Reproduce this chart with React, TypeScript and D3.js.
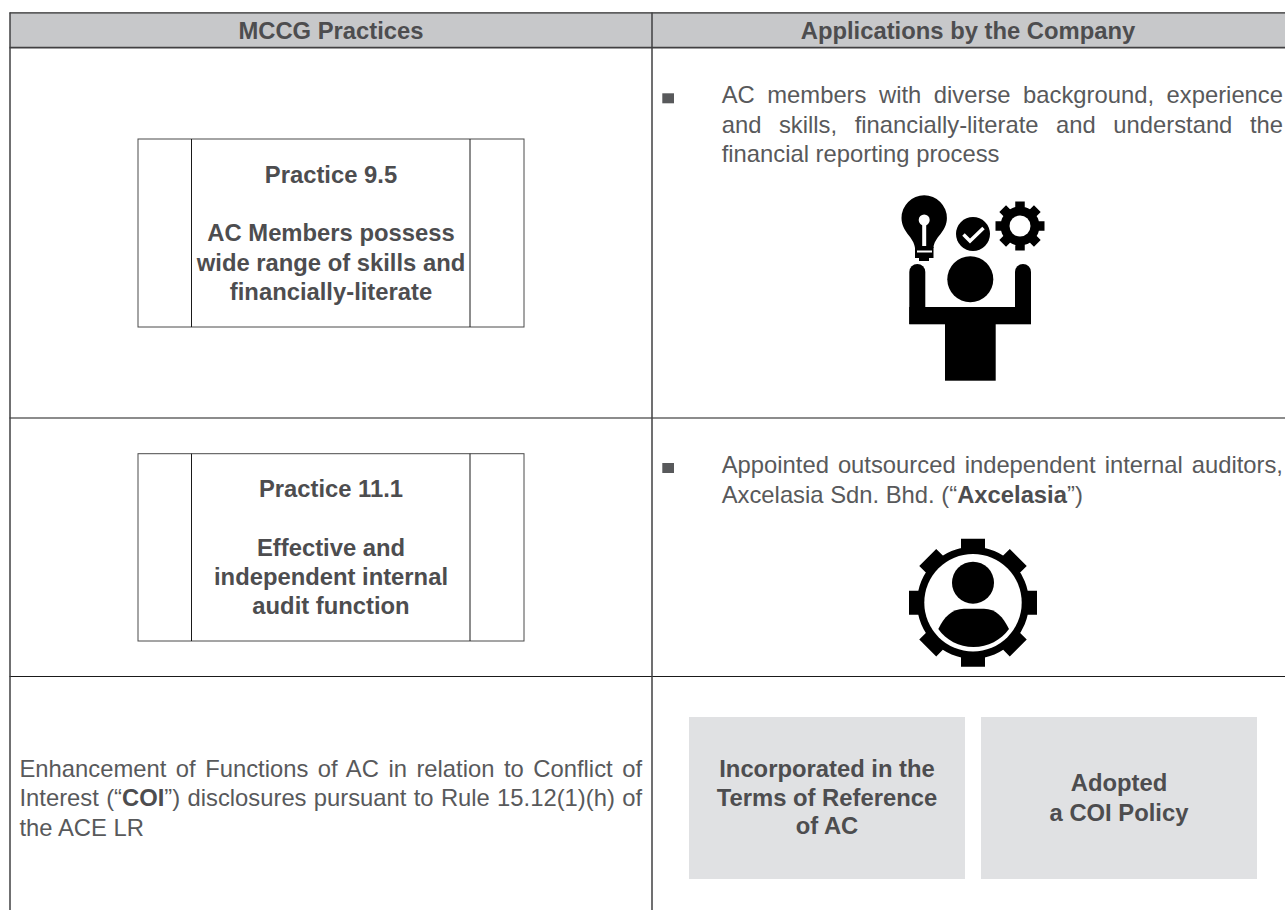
import { useEffect, useRef } from 'react'
import * as d3 from 'd3'

const W = 1285, H = 910
const INK = '#4d4d4f'
const BODY_INK = '#58595b'
const FONT = '"Liberation Sans", Arial, sans-serif'
const FS = 23.8

// [text, bold] runs per line
type Run = [string, boolean]
const headers = ['MCCG Practices', 'Applications by the Company']
const practice95 = ['Practice 9.5', '', 'AC Members possess', 'wide range of skills and', 'financially-literate']
const practice111 = ['Practice 11.1', '', 'Effective and', 'independent internal', 'audit function']
const skillsLines: Run[][] = [
  [['AC members with diverse background, experience', false]],
  [['and skills, financially-literate and understand the', false]],
  [['financial reporting process', false]],
]
const auditorLines: Run[][] = [
  [['Appointed outsourced independent internal auditors,', false]],
  [['Axcelasia Sdn. Bhd. (“', false], ['Axcelasia', true], ['”)', false]],
]
const coiLines: Run[][] = [
  [['Enhancement of Functions of AC in relation to Conflict of', false]],
  [['Interest (“', false], ['COI', true], ['”) disclosures pursuant to Rule 15.12(1)(h) of', false]],
  [['the ACE LR', false]],
]
const termsBox = ['Incorporated in the', 'Terms of Reference', 'of AC']
const policyBox = ['Adopted', 'a COI Policy']
const gearTeeth = d3.range(8)

type G = d3.Selection<SVGGElement, unknown, null, undefined>

function justified(g: G, lines: Run[][], x: number, y0: number, right: number, lh: number, justifyCount: number) {
  lines.forEach((runs, i) => {
    const t = g.append('text').attr('x', x).attr('y', y0 + i * lh)
      .attr('font-family', FONT).attr('font-size', FS).attr('fill', BODY_INK)
    runs.forEach(([s, b]) => t.append('tspan').attr('font-weight', b ? 700 : 400).attr('fill', b ? INK : BODY_INK).text(s))
    if (i < justifyCount) {
      const node = t.node() as SVGTextElement
      const gaps = runs.map(r => r[0]).join('').split(' ').length - 1
      const extra = (right - x - node.getComputedTextLength()) / gaps
      t.attr('word-spacing', extra)
    }
  })
}

function centered(g: G, lines: string[], cx: number, y0: number, lh: number, size = FS) {
  lines.forEach((s, i) => {
    if (!s) return
    g.append('text').attr('x', cx).attr('y', y0 + i * lh).attr('text-anchor', 'middle')
      .attr('font-family', FONT).attr('font-size', size).attr('font-weight', 700).attr('fill', INK).text(s)
  })
}

function practiceBox(g: G, y0: number, y1: number) {
  const xs = [138, 191.5, 470, 524]
  g.append('rect').attr('x', xs[0]).attr('y', y0).attr('width', xs[3] - xs[0]).attr('height', y1 - y0)
    .attr('fill', 'none').attr('stroke', '#4a4a4a').attr('stroke-width', 1)
  xs.slice(1, 3).forEach(x => g.append('line').attr('x1', x).attr('x2', x).attr('y1', y0).attr('y2', y1)
    .attr('stroke', '#1a1a1a').attr('stroke-width', 1))
}

function gearPath(cx: number, cy: number, rBody: number, rOut: number, toothW: number) {
  const p = d3.path()
  p.arc(cx, cy, rBody, 0, Math.PI * 2)
  gearTeeth.forEach(i => {
    const a = i * Math.PI / 4
    const pt = (r: number, o: number) => [cx + r * Math.cos(a) - o * Math.sin(a), cy + r * Math.sin(a) + o * Math.cos(a)]
    const c = [pt(rBody - 2, -toothW / 2), pt(rOut, -toothW / 2), pt(rOut, toothW / 2), pt(rBody - 2, toothW / 2)]
    p.moveTo(c[0][0], c[0][1]); c.slice(1).forEach(q => p.lineTo(q[0], q[1])); p.closePath()
  })
  return p.toString()
}

function skillsIcon(g: G) {
  // bulb
  const b = d3.path()
  b.moveTo(915, 248)
  b.bezierCurveTo(914, 237, 901.5, 232, 901.5, 218)
  b.arc(924.2, 218, 22.7, Math.PI, 0)
  b.bezierCurveTo(947, 232, 934, 237, 933.5, 248)
  b.closePath()
  g.append('path').attr('d', b.toString()).attr('fill', '#000')
  g.append('rect').attr('x', 915).attr('y', 247).attr('width', 18.5).attr('height', 11).attr('fill', '#000')
  g.append('rect').attr('x', 919).attr('y', 258).attr('width', 10).attr('height', 3).attr('fill', '#000')
  g.append('circle').attr('cx', 924.2).attr('cy', 220).attr('r', 5.5).attr('fill', '#fff')
  g.append('rect').attr('x', 922.2).attr('y', 222).attr('width', 4).attr('height', 24).attr('fill', '#fff')
  g.append('rect').attr('x', 917).attr('y', 250.5).attr('width', 15).attr('height', 2).attr('fill', '#fff')
  // check
  g.append('circle').attr('cx', 973).attr('cy', 234).attr('r', 17).attr('fill', '#000')
  g.append('path').attr('d', d3.line()([[963.5, 234.5], [970, 241], [983.5, 228]]) as string)
    .attr('fill', 'none').attr('stroke', '#fff').attr('stroke-width', 3.5)
  // gear
  g.append('path').attr('d', gearPath(1020, 226, 19.5, 24.5, 9.5)).attr('fill', '#000')
  g.append('circle').attr('cx', 1020).attr('cy', 226).attr('r', 10.5).attr('fill', '#fff')
  // person
  g.append('circle').attr('cx', 970.3).attr('cy', 279.3).attr('r', 23).attr('fill', '#000')
  const armL = 909.3, armR = 1031, armW = 16, armTop = 264
  ;[armL, armR - armW].forEach(x => g.append('path')
    .attr('d', `M${x},324V${armTop + armW / 2}A${armW / 2},${armW / 2} 0 0 1 ${x + armW},${armTop + armW / 2}V324Z`)
    .attr('fill', '#000'))
  g.append('rect').attr('x', armL).attr('y', 307).attr('width', armR - armL).attr('height', 17.3).attr('fill', '#000')
  g.append('rect').attr('x', 945).attr('y', 307).attr('width', 50.7).attr('height', 73.7).attr('fill', '#000')
}

function auditIcon(g: G) {
  const cx = 973, cy = 602.7
  g.append('path').attr('d', gearPath(cx, cy, 56, 64, 24)).attr('fill', '#000')
  g.append('circle').attr('cx', cx).attr('cy', cy).attr('r', 48.7).attr('fill', '#fff')
  g.append('circle').attr('cx', cx).attr('cy', cy - 20).attr('r', 21).attr('fill', '#000')
  const s = d3.path()
  s.moveTo(938.3, 629)
  s.bezierCurveTo(944, 617, 952, 608.7, 964, 608.7)
  s.lineTo(984, 608.7)
  s.bezierCurveTo(996, 608.7, 1003, 617, 1009, 629)
  s.bezierCurveTo(1001, 640, 988, 647, 973.5, 647)
  s.bezierCurveTo(959, 647, 946, 640, 938.3, 629)
  s.closePath()
  g.append('path').attr('d', s.toString()).attr('fill', '#000')
}

export default function App() {
  const ref = useRef<SVGSVGElement>(null)

  useEffect(() => {
    if (!ref.current) return
    const svg = d3.select(ref.current)
    svg.selectAll('*').remove()
    const g = svg.append('g') as unknown as G

    // Header band
    g.append('rect').attr('x', 10).attr('y', 13).attr('width', W - 10).attr('height', 34.5).attr('fill', '#c7c8ca')

    // Table rules
    const hRules: [number, string, number][] = [[12.8, '#2a2a2a', 1.2], [47.6, '#414042', 1.6], [418, '#1a1a1a', 1.2], [676.5, '#1a1a1a', 1.2]]
    hRules.forEach(([y, c, w]) => g.append('line').attr('x1', 9.5).attr('x2', W).attr('y1', y).attr('y2', y).attr('stroke', c).attr('stroke-width', w))
    ;[10, 652].forEach(x => g.append('line').attr('x1', x).attr('x2', x).attr('y1', 12.5).attr('y2', H)
      .attr('stroke', '#414042').attr('stroke-width', 1.5))

    centered(g, [headers[0]], 331, 39, 0)
    centered(g, [headers[1]], 968, 39, 0)

    practiceBox(g, 139, 327)
    practiceBox(g, 453.7, 641)
    centered(g, practice95, 331, 182.7, 29.35)
    centered(g, practice111, 331, 497, 29.35)

    const bullets = [93.3, 463]
    bullets.forEach(y => g.append('rect').attr('x', 662.3).attr('y', y).attr('width', 11.7).attr('height', 10).attr('fill', BODY_INK))

    justified(g, skillsLines, 721.7, 103, 1283, 29.5, 2)
    justified(g, auditorLines, 721.7, 473, 1283, 29.7, 1)
    justified(g, coiLines, 19.5, 777, 642, 29.3, 2)

    skillsIcon(g)
    auditIcon(g)

    ;[689, 981].forEach(x => g.append('rect').attr('x', x).attr('y', 717).attr('width', 276).attr('height', 162).attr('fill', '#e0e1e3'))
    centered(g, termsBox, 827, 776.7, 28.8)
    centered(g, policyBox, 1119, 790.7, 30)
  }, [])

  return <svg ref={ref} width={W} height={H} style={{ position: 'absolute', left: 0, top: 0, background: '#fff' }} />
}
